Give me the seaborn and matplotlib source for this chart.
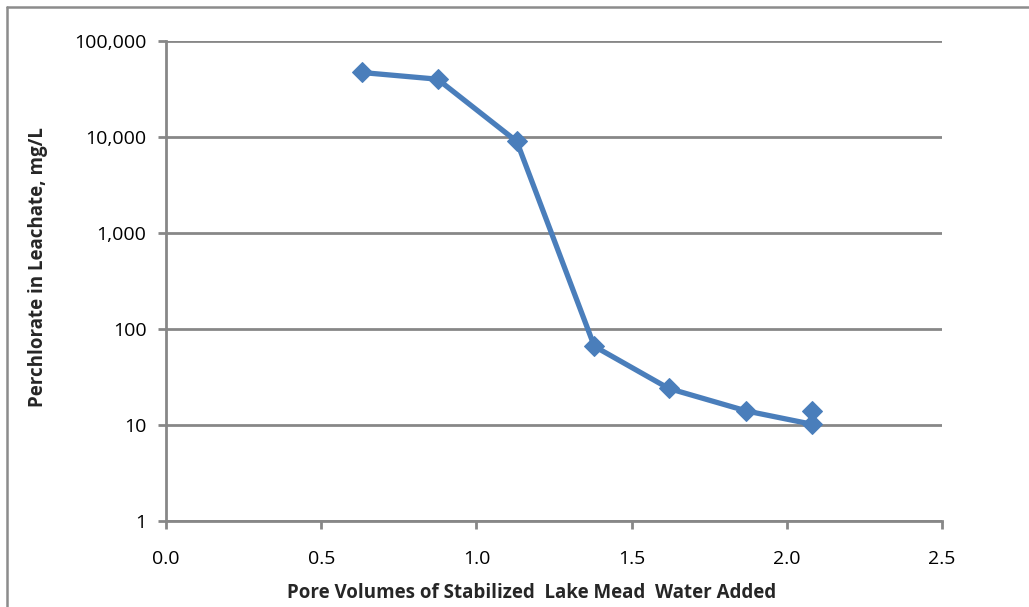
import numpy as np
import pandas as pd
import matplotlib
matplotlib.use("Agg")
import matplotlib.pyplot as plt
import matplotlib.ticker as mticker
import seaborn as sns
from matplotlib.lines import Line2D

# Data
pore_volumes = [0.63, 0.875, 1.13, 1.38, 1.62, 1.87, 2.08, 2.08]
perchlorate = [47000, 40000, 9000, 66, 24, 14, 10.2, 14]

x_ticks = [0.0, 0.5, 1.0, 1.5, 2.0, 2.5]
y_ticks = [1, 10, 100, 1000, 10000, 100000]

df = pd.DataFrame({"pv": pore_volumes, "perc": perchlorate})

sns.set_style("white")
plt.rcParams['font.family'] = ['Open Sans', 'DejaVu Sans']

grey = "#878787"
blue = "#4A7EBB"

fig = plt.figure(figsize=(10.29, 6.07), dpi=100)
ax = fig.add_axes([166 / 1029, 1 - 521 / 607, (942 - 166) / 1029, (521 - 41) / 607])

sns.lineplot(data=df, x="pv", y="perc", ax=ax, sort=False, color=blue,
             linewidth=3.8, marker="D", markersize=10, markeredgecolor=blue,
             estimator=None)

ax.set_yscale("log")
ax.set_ylim(1, 100000)
ax.set_xlim(0, 2.5)
ax.set_xticks(x_ticks)
ax.set_yticks(y_ticks)
ax.yaxis.set_minor_locator(mticker.NullLocator())
ax.xaxis.set_major_formatter(mticker.FormatStrFormatter("%.1f"))
ax.yaxis.set_major_formatter(mticker.FuncFormatter(lambda v, p: f"{v:,.0f}"))

ax.grid(axis="y", color=grey, linewidth=2)
ax.set_axisbelow(True)
for s in ["top", "right"]:
    ax.spines[s].set_visible(False)
for s in ["left", "bottom"]:
    ax.spines[s].set_color(grey)
    ax.spines[s].set_linewidth(2)
ax.tick_params(axis="both", direction="out", length=6, width=2, color=grey,
               labelsize=14, labelcolor="black", left=True, bottom=True)
ax.tick_params(axis="y", pad=8)
ax.tick_params(axis="x", pad=15)

ax.set_xlabel("")
ax.set_ylabel("")
fig.text(532 / 1029, 1 - 593 / 607, "Pore Volumes of Stabilized  Lake Mead  Water Added",
         ha="center", va="center", fontsize=13.5, fontweight="bold")
fig.text(38 / 1029, 1 - 267 / 607, "Perchlorate in Leachate, mg/L",
         ha="center", va="center", rotation=90, fontsize=13.5, fontweight="bold")

# outer chart border (left and top visible)
fig.add_artist(Line2D([7 / 1029, 7 / 1029], [0, 1 - 7 / 607], transform=fig.transFigure,
                      color="#8c8c8c", linewidth=1.8))
fig.add_artist(Line2D([7 / 1029, 1], [1 - 7 / 607, 1 - 7 / 607], transform=fig.transFigure,
                      color="#8c8c8c", linewidth=1.8))

fig.savefig("out.png", dpi=100)
